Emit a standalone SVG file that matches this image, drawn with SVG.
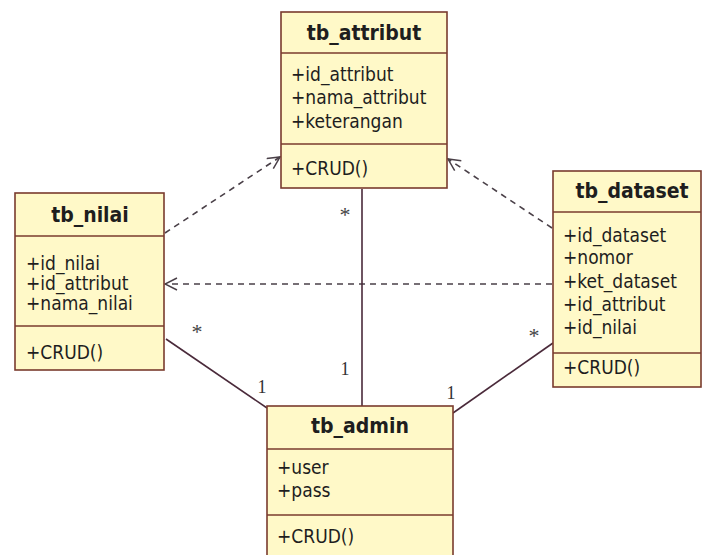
<svg xmlns="http://www.w3.org/2000/svg" width="702" height="555" viewBox="0 0 702 555">
<defs>
<style>
.box{fill:#fff9c8;stroke:#7a3b2e;stroke-width:1.6}
.sep{stroke:#7a3b2e;stroke-width:1.4}
.title{font-family:"DejaVu Sans Condensed","DejaVu Sans",sans-serif;font-stretch:condensed;font-weight:bold;font-size:21px;fill:#1e1e1e;text-anchor:middle}
.t{font-family:"DejaVu Sans Condensed","DejaVu Sans",sans-serif;font-stretch:condensed;font-size:19px;fill:#1e1e1e}
.dash{fill:none;stroke:#4a4048;stroke-width:1.6;stroke-dasharray:6 5}
.solid{fill:none;stroke:#4a2a3a;stroke-width:1.6}
.m{font-family:"Liberation Serif",serif;font-size:18px;fill:#333;text-anchor:middle}
.s{font-family:"Liberation Serif",serif;font-size:22px;fill:#444;text-anchor:middle}
</style>
<marker id="open" viewBox="0 0 14 14" refX="13" refY="7" markerWidth="14" markerHeight="14" markerUnits="userSpaceOnUse" orient="auto">
<polyline points="1,1 13,7 1,13" fill="none" stroke="#4a4048" stroke-width="1.5"/>
</marker>
</defs>
<rect width="702" height="555" fill="#ffffff"/>
<g id="connectors">
<line class="dash" x1="165" y1="233" x2="280" y2="157" marker-end="url(#open)"/>
<line class="dash" x1="552" y1="228" x2="448" y2="159" marker-end="url(#open)"/>
<line class="dash" x1="552" y1="284" x2="165" y2="284" marker-end="url(#open)"/>
<line class="solid" x1="362" y1="189" x2="362" y2="406"/>
<line class="solid" x1="166" y1="339" x2="267" y2="408"/>
<line class="solid" x1="553" y1="343" x2="453" y2="413"/>
<text class="s" x="345" y="222">*</text>
<text class="m" x="345" y="375">1</text>
<text class="s" x="197" y="339">*</text>
<text class="m" x="262" y="393">1</text>
<text class="s" x="534" y="343">*</text>
<text class="m" x="451" y="399">1</text>
</g>
<g id="tb_attribut">
<rect class="box" x="281" y="12" width="166" height="176"/>
<line class="sep" x1="281" y1="53" x2="447" y2="53"/>
<line class="sep" x1="281" y1="144" x2="447" y2="144"/>
<text class="title" x="364" y="40">tb_attribut</text>
<text class="t" x="291" y="81">+id_attribut</text>
<text class="t" x="291" y="104">+nama_attribut</text>
<text class="t" x="291" y="128">+keterangan</text>
<text class="t" x="291" y="175">+CRUD()</text>
</g>
<g id="tb_nilai">
<rect class="box" x="15" y="193" width="149" height="177"/>
<line class="sep" x1="15" y1="236" x2="164" y2="236"/>
<line class="sep" x1="15" y1="326" x2="164" y2="326"/>
<text class="title" x="90" y="222">tb_nilai</text>
<text class="t" x="26" y="270">+id_nilai</text>
<text class="t" x="26" y="290">+id_attribut</text>
<text class="t" x="26" y="310">+nama_nilai</text>
<text class="t" x="26" y="359">+CRUD()</text>
</g>
<g id="tb_dataset">
<rect class="box" x="553" y="171" width="148" height="216"/>
<line class="sep" x1="553" y1="212" x2="701" y2="212"/>
<line class="sep" x1="553" y1="353" x2="701" y2="353"/>
<text class="title" x="632" y="198">tb_dataset</text>
<text class="t" x="563" y="242">+id_dataset</text>
<text class="t" x="563" y="264">+nomor</text>
<text class="t" x="563" y="288">+ket_dataset</text>
<text class="t" x="563" y="311">+id_attribut</text>
<text class="t" x="563" y="334">+id_nilai</text>
<text class="t" x="563" y="374">+CRUD()</text>
</g>
<g id="tb_admin">
<rect class="box" x="267" y="406" width="186" height="160"/>
<line class="sep" x1="267" y1="449" x2="453" y2="449"/>
<line class="sep" x1="267" y1="515" x2="453" y2="515"/>
<text class="title" x="360" y="433">tb_admin</text>
<text class="t" x="277" y="474">+user</text>
<text class="t" x="277" y="497">+pass</text>
<text class="t" x="277" y="543">+CRUD()</text>
</g>
</svg>
